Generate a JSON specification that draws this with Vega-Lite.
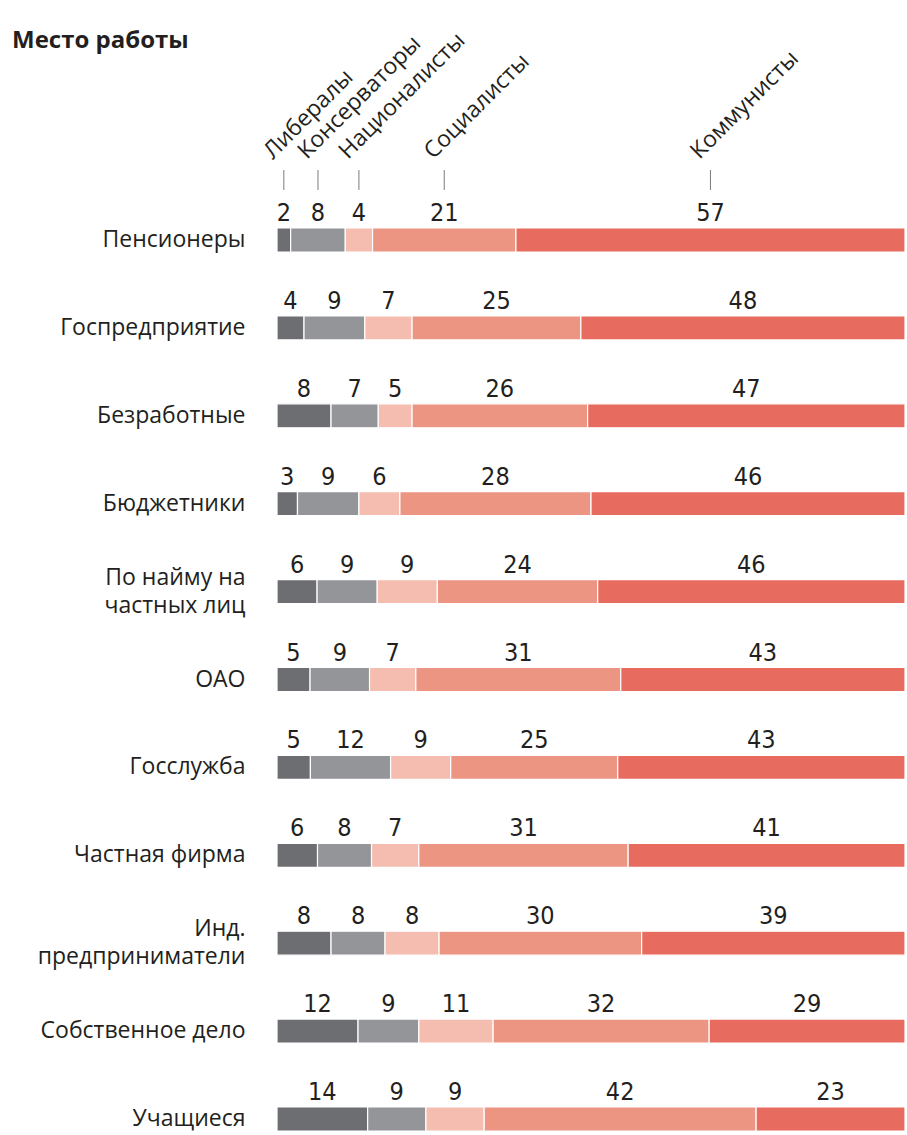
{
  "$schema": "https://vega.github.io/schema/vega-lite/v6.json",
  "autosize": "none",
  "width": 628,
  "height": 903,
  "padding": {"left": 277, "top": 228, "right": 2, "bottom": 0},
  "background": "white",
  "title": {
    "text": "Место работы",
    "anchor": "start",
    "frame": "group",
    "dx": -265,
    "dy": 16,
    "offset": -8,
    "font": "Open Sans",
    "fontSize": 24,
    "fontWeight": "bold",
    "color": "#231f20"
  },
  "config": {"view": {"stroke": null}},
  "data": {
    "values": [
      {"job": "Пенсионеры", "party": "Либералы", "value": 2},
      {"job": "Пенсионеры", "party": "Консерваторы", "value": 8},
      {"job": "Пенсионеры", "party": "Националисты", "value": 4},
      {"job": "Пенсионеры", "party": "Социалисты", "value": 21},
      {"job": "Пенсионеры", "party": "Коммунисты", "value": 57},
      {"job": "Госпредприятие", "party": "Либералы", "value": 4},
      {"job": "Госпредприятие", "party": "Консерваторы", "value": 9},
      {"job": "Госпредприятие", "party": "Националисты", "value": 7},
      {"job": "Госпредприятие", "party": "Социалисты", "value": 25},
      {"job": "Госпредприятие", "party": "Коммунисты", "value": 48},
      {"job": "Безработные", "party": "Либералы", "value": 8},
      {"job": "Безработные", "party": "Консерваторы", "value": 7},
      {"job": "Безработные", "party": "Националисты", "value": 5},
      {"job": "Безработные", "party": "Социалисты", "value": 26},
      {"job": "Безработные", "party": "Коммунисты", "value": 47},
      {"job": "Бюджетники", "party": "Либералы", "value": 3},
      {"job": "Бюджетники", "party": "Консерваторы", "value": 9},
      {"job": "Бюджетники", "party": "Националисты", "value": 6},
      {"job": "Бюджетники", "party": "Социалисты", "value": 28},
      {"job": "Бюджетники", "party": "Коммунисты", "value": 46},
      {"job": "По найму на частных лиц", "party": "Либералы", "value": 6},
      {"job": "По найму на частных лиц", "party": "Консерваторы", "value": 9},
      {"job": "По найму на частных лиц", "party": "Националисты", "value": 9},
      {"job": "По найму на частных лиц", "party": "Социалисты", "value": 24},
      {"job": "По найму на частных лиц", "party": "Коммунисты", "value": 46},
      {"job": "ОАО", "party": "Либералы", "value": 5},
      {"job": "ОАО", "party": "Консерваторы", "value": 9},
      {"job": "ОАО", "party": "Националисты", "value": 7},
      {"job": "ОАО", "party": "Социалисты", "value": 31},
      {"job": "ОАО", "party": "Коммунисты", "value": 43},
      {"job": "Госслужба", "party": "Либералы", "value": 5},
      {"job": "Госслужба", "party": "Консерваторы", "value": 12},
      {"job": "Госслужба", "party": "Националисты", "value": 9},
      {"job": "Госслужба", "party": "Социалисты", "value": 25},
      {"job": "Госслужба", "party": "Коммунисты", "value": 43},
      {"job": "Частная фирма", "party": "Либералы", "value": 6},
      {"job": "Частная фирма", "party": "Консерваторы", "value": 8},
      {"job": "Частная фирма", "party": "Националисты", "value": 7},
      {"job": "Частная фирма", "party": "Социалисты", "value": 31},
      {"job": "Частная фирма", "party": "Коммунисты", "value": 41},
      {"job": "Инд. предприниматели", "party": "Либералы", "value": 8},
      {"job": "Инд. предприниматели", "party": "Консерваторы", "value": 8},
      {"job": "Инд. предприниматели", "party": "Националисты", "value": 8},
      {"job": "Инд. предприниматели", "party": "Социалисты", "value": 30},
      {"job": "Инд. предприниматели", "party": "Коммунисты", "value": 39},
      {"job": "Собственное дело", "party": "Либералы", "value": 12},
      {"job": "Собственное дело", "party": "Консерваторы", "value": 9},
      {"job": "Собственное дело", "party": "Националисты", "value": 11},
      {"job": "Собственное дело", "party": "Социалисты", "value": 32},
      {"job": "Собственное дело", "party": "Коммунисты", "value": 29},
      {"job": "Учащиеся", "party": "Либералы", "value": 14},
      {"job": "Учащиеся", "party": "Консерваторы", "value": 9},
      {"job": "Учащиеся", "party": "Националисты", "value": 9},
      {"job": "Учащиеся", "party": "Социалисты", "value": 42},
      {"job": "Учащиеся", "party": "Коммунисты", "value": 23}
    ]
  },
  "transform": [
    {"calculate": "indexof(['Либералы','Консерваторы','Националисты','Социалисты','Коммунисты'], datum.party)", "as": "pi"},
    {"stack": "value", "groupby": ["job"], "sort": [{"field": "pi", "order": "ascending"}], "offset": "normalize", "as": ["x0", "x1"]},
    {"calculate": "(datum.x0 + datum.x1) / 2", "as": "xm"}
  ],
  "encoding": {
    "y": {
      "field": "job",
      "type": "nominal",
      "sort": ["Пенсионеры", "Госпредприятие", "Безработные", "Бюджетники", "По найму на частных лиц", "ОАО", "Госслужба", "Частная фирма", "Инд. предприниматели", "Собственное дело", "Учащиеся"],
      "scale": {"paddingInner": 0.727, "paddingOuter": 0},
      "axis": {
        "title": null,
        "domain": false,
        "ticks": false,
        "labelPadding": 32,
        "labelFont": "Open Sans",
        "labelFontSize": 23,
        "labelColor": "#231f20",
        "labelLimit": 400,
        "labelLineHeight": 28,
        "labelOffset": {"condition": {"test": "datum.value == 'По найму на частных лиц' || datum.value == 'Инд. предприниматели'", "value": -14}, "value": 0},
        "labelExpr": "datum.value == 'По найму на частных лиц' ? ['По найму на', 'частных лиц'] : datum.value == 'Инд. предприниматели' ? ['Инд.', 'предприниматели'] : datum.value"
      }
    }
  },
  "layer": [
    {
      "mark": {"type": "bar", "stroke": "white", "strokeWidth": 1.2},
      "encoding": {
        "x": {"field": "x0", "type": "quantitative", "scale": {"domain": [0, 1], "nice": false, "zero": false}, "axis": null},
        "x2": {"field": "x1"},
        "color": {
          "field": "party",
          "type": "nominal",
          "scale": {
            "domain": ["Либералы", "Консерваторы", "Националисты", "Социалисты", "Коммунисты"],
            "range": ["#6d6e71", "#939598", "#f5bdb0", "#ec9583", "#e76b5f"]
          },
          "legend": null
        }
      }
    },
    {
      "mark": {"type": "text", "baseline": "middle", "align": "center", "yOffset": -27, "font": "Liberation Sans Narrow, DejaVu Sans Condensed, sans-serif", "fontSize": 25, "color": "#231f20"},
      "encoding": {
        "x": {"field": "xm", "type": "quantitative"},
        "text": {"field": "value", "type": "quantitative"}
      }
    },
    {
      "transform": [{"filter": "datum.job == 'Пенсионеры'"}],
      "mark": {"type": "tick", "orient": "vertical", "thickness": 1, "color": "#444444", "yOffset": -60},
      "encoding": {
        "x": {"field": "xm", "type": "quantitative"},
        "size": {"value": 20}
      }
    },
    {
      "transform": [{"filter": "datum.job == 'Пенсионеры'"}],
      "mark": {"type": "text", "angle": -45, "align": "left", "baseline": "alphabetic", "xOffset": -11, "yOffset": -80, "font": "Open Sans", "fontSize": 23, "color": "#231f20"},
      "encoding": {
        "x": {"field": "xm", "type": "quantitative"},
        "text": {"field": "party", "type": "nominal"}
      }
    }
  ]
}
